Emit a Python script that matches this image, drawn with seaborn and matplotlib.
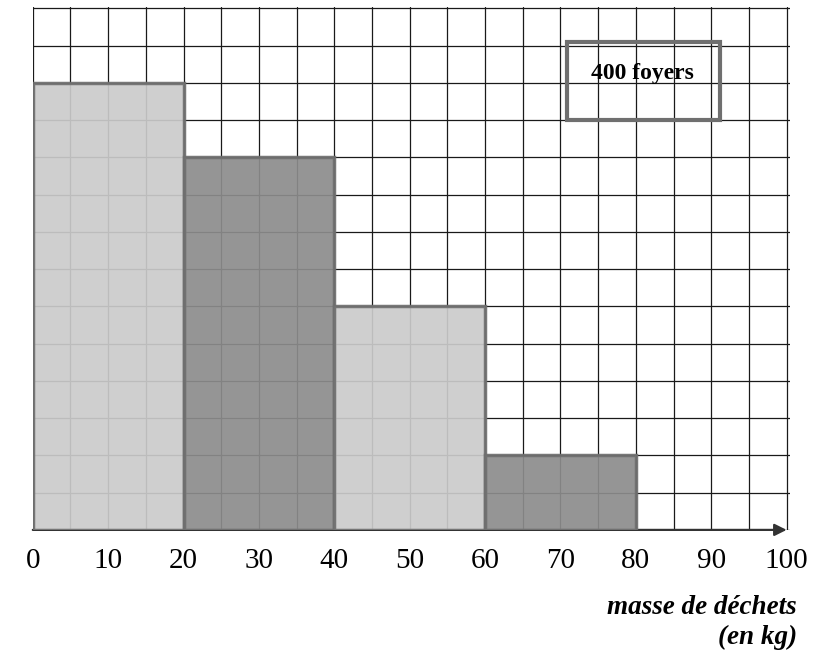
import numpy as np
import pandas as pd
import seaborn as sns
import matplotlib.pyplot as plt
from matplotlib.patches import Rectangle

# classes de masse (kg) et hauteurs des rectangles (en carreaux)
class_left = [0, 20, 40, 60]
class_right = [20, 40, 60, 80]
heights = [12, 10, 6, 2]
class_names = ["[0;20[", "[20;40[", "[40;60[", "[60;80["]
tick_values = [0, 10, 20, 30, 40, 50, 60, 70, 80, 90, 100]
legend_text = "400 foyers"
xlabel_lines = ["masse de déchets", "(en kg)"]

centers = [(a + b) / 2 for a, b in zip(class_left, class_right)]
df = pd.DataFrame({"centre": centers, "hauteur": heights, "classe": class_names})

sns.set_style("white")
plt.rcParams["font.family"] = ["Liberation Serif", "DejaVu Serif"]
plt.rcParams["text.color"] = "black"

fig = plt.figure(figsize=(8.2, 6.55), dpi=100)
ax = fig.add_axes([0.040, 0.191, 0.923, 0.799])

bar_colors = ["#cbcbcb", "#8c8c8c", "#cbcbcb", "#8c8c8c"]
sns.barplot(data=df, x="centre", y="hauteur", hue="classe", palette=bar_colors,
            native_scale=True, width=1, dodge=False, legend=False,
            edgecolor="#6f6f6f", linewidth=2.5, ax=ax, zorder=3)
for p in ax.patches:
    p.set_alpha(0.92)
    p.set_edgecolor("#6f6f6f")

ax.set_xlim(0, 100.4)
ax.set_ylim(0, 14.05)

# quadrillage : 5 kg en abscisse, 1 carreau en ordonnee
ax.set_xticks(np.arange(0, 101, 5), minor=True)
ax.set_yticks(np.arange(0, 15, 1))
ax.set_yticklabels([])
ax.grid(True, which="both", color="#1a1a1a", linewidth=0.9, zorder=0)
ax.set_axisbelow(True)
ax.tick_params(axis="y", length=0)
ax.tick_params(axis="x", which="minor", length=0)

ax.set_xticks(tick_values)
ax.set_xticklabels([str(v) for v in tick_values], fontsize=21, color="black")
ax.tick_params(axis="x", which="major", direction="out", length=5, width=1.5,
               color="#222222", pad=8)

for side in ["top", "right", "left", "bottom"]:
    ax.spines[side].set_visible(False)

# axe des abscisses avec fleche
ax.annotate("", xy=(100, 0), xytext=(0, 0),
            arrowprops=dict(arrowstyle="-|>", color="#333333", lw=1.6,
                            mutation_scale=18, shrinkA=0, shrinkB=0),
            zorder=2, annotation_clip=False)

ax.set_xlabel("")
ax.set_ylabel("")

# cadre "400 foyers"
ax.add_patch(Rectangle((70.8, 11.0), 20.4, 2.1, facecolor="none",
                       edgecolor="#6f6f6f", linewidth=3, zorder=4))
ax.text(80.9, 12.25, legend_text, ha="center", va="center", fontsize=17,
        fontweight="bold", color="black", zorder=5)

fig.text(0.972, 0.092, xlabel_lines[0] + "\n" + xlabel_lines[1],
         ha="right", va="top", fontsize=19.5, fontweight="bold",
         fontstyle="italic", linespacing=1.25, color="black")

fig.savefig("out.png", dpi=100)
